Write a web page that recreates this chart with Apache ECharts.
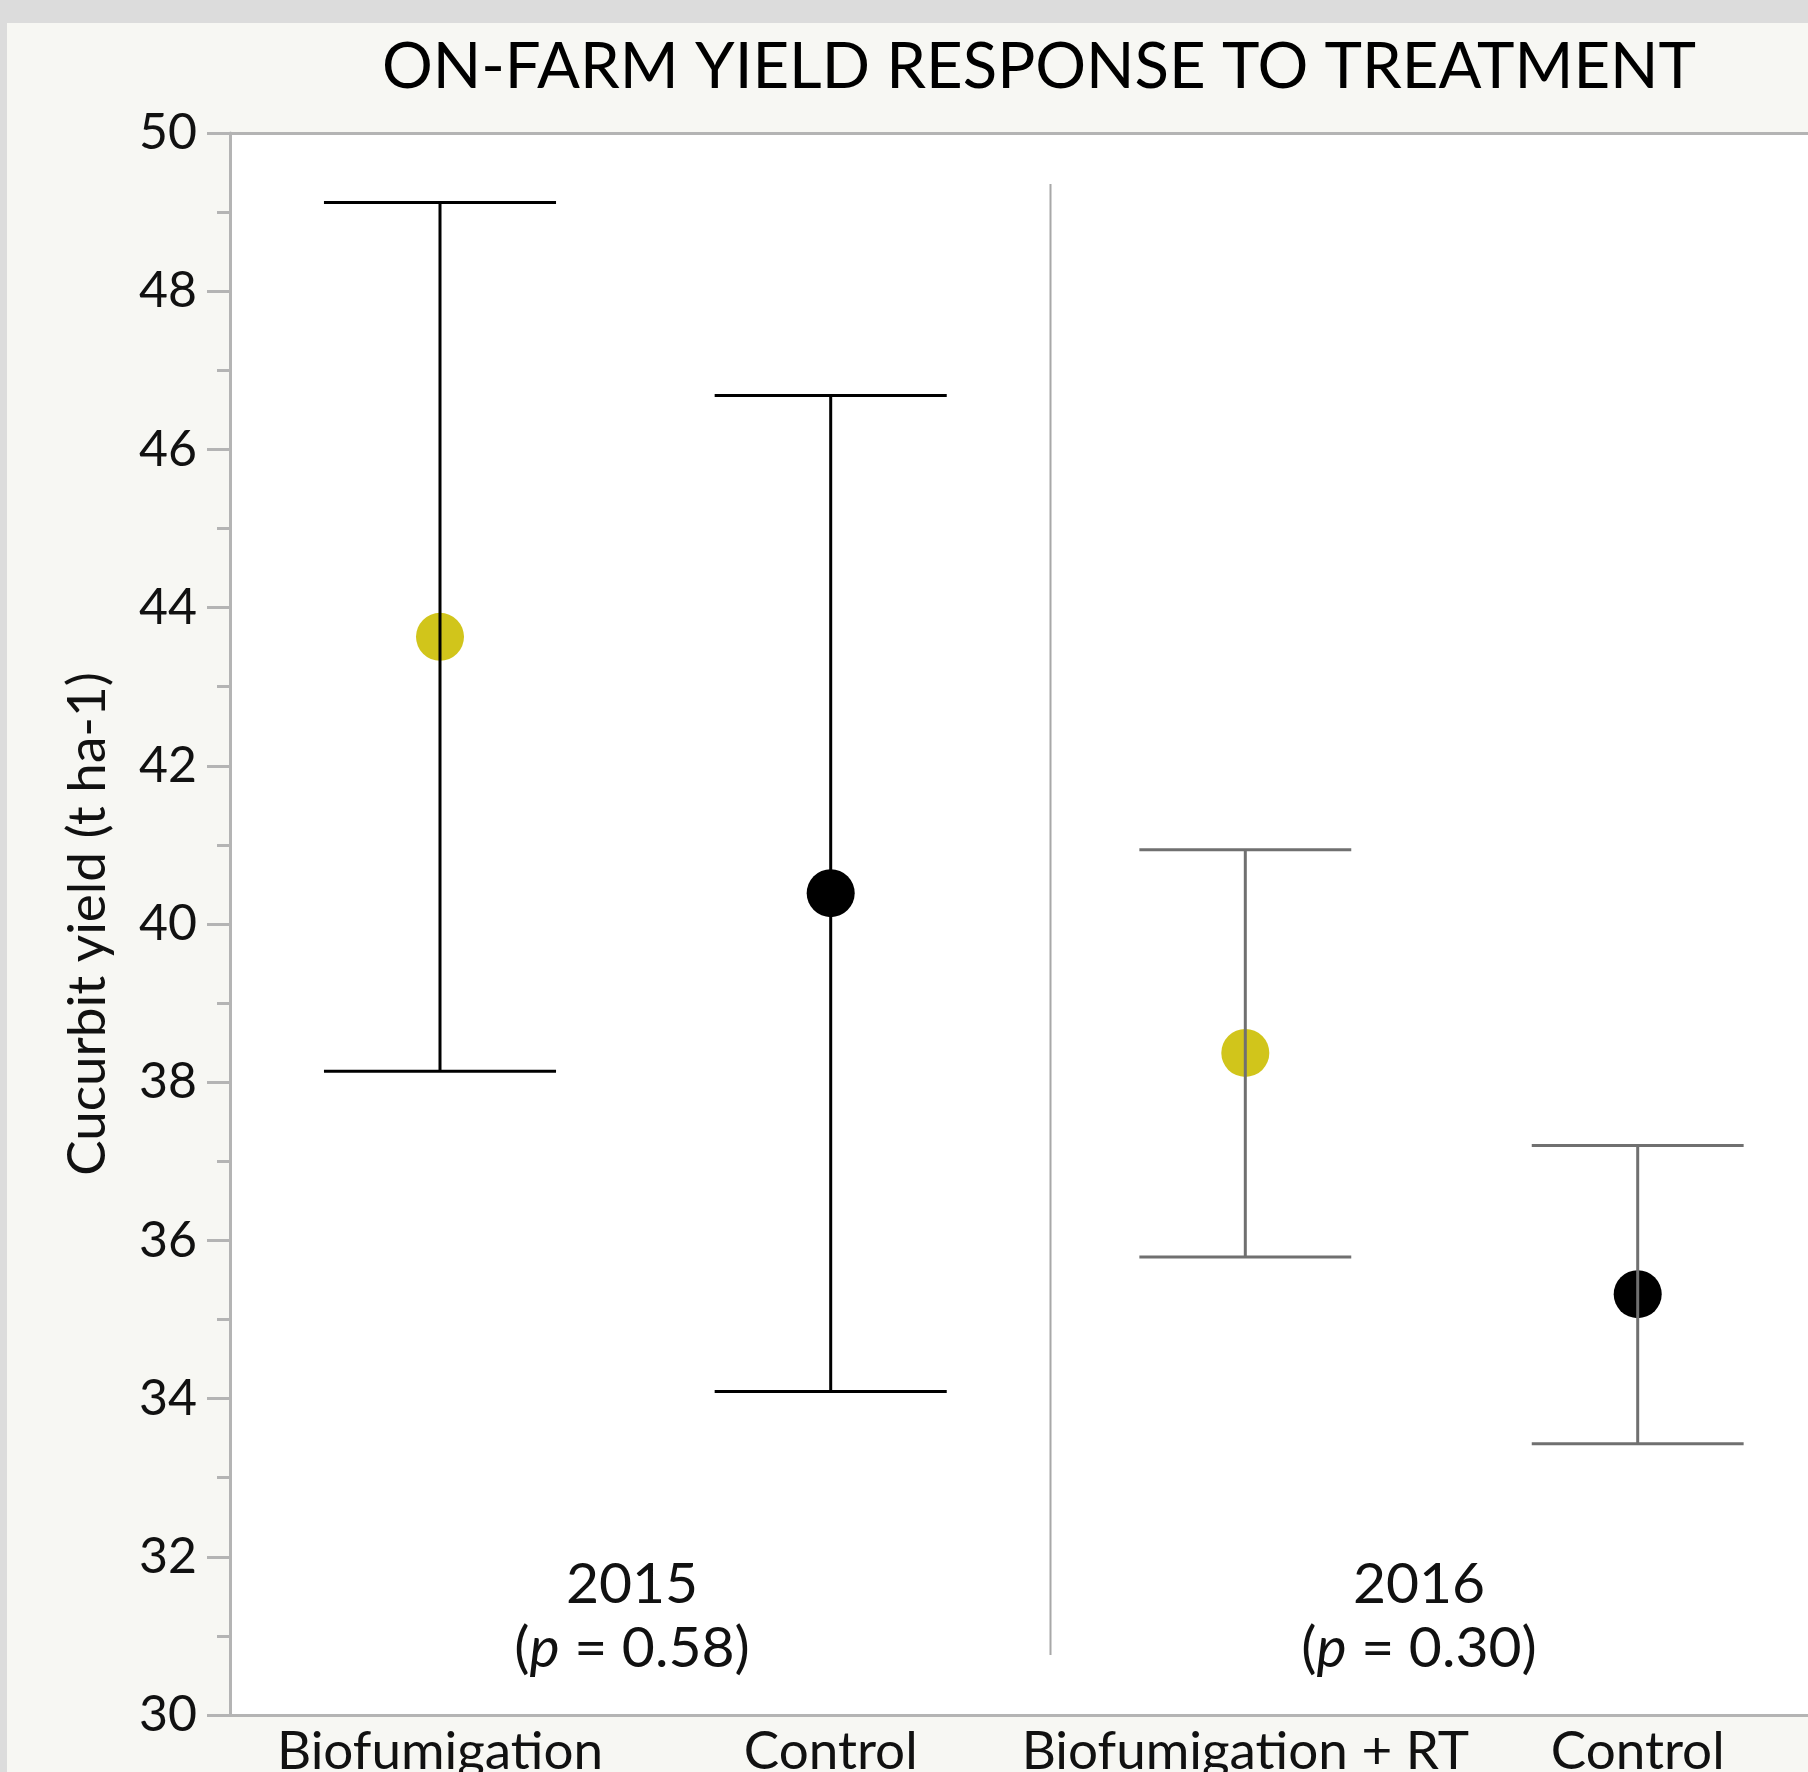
<!DOCTYPE html>
<html>
<head>
<meta charset="utf-8">
<script src="https://cdn.jsdelivr.net/npm/echarts@6/dist/echarts.min.js"></script>
<style>
  html, body { margin: 0; padding: 0; background: #dcdcdc; }
  #chart { width: 1808px; height: 1772px; }
</style>
</head>
<body>
<div id="chart"></div>
<script>
// Treatment groups per season
const treatments2015 = ['Biofumigation', 'Control'];
const treatments2016 = ['Biofumigation + RT', 'Control'];

// Mean cucurbit yield (t ha-1) with lower / upper error bar limits
const means2015 = [43.63, 40.39];
const lower2015 = [38.14, 34.09];
const upper2015 = [49.12, 46.68];

const means2016 = [38.37, 35.32];
const lower2016 = [35.79, 33.43];
const upper2016 = [40.94, 37.20];

// Season labels and p-values
const seasons = ['2015', '2016'];
const pValues = ['0.58', '0.30'];

// Y axis range
const yMin = 30;
const yMax = 50;
const yStep = 2;

const FONT = 'Lato';
const TREATED = '#d1c51b';
const CONTROL = '#000000';
const AXIS_GREY = '#b4b4b4';

function pointData(means) {
  return means.map((m, i) => [i, m]);
}
function barData(lo, hi) {
  return lo.map((l, i) => [i, l, hi[i]]);
}
function dotColor(names) {
  return p => (names[p.dataIndex] === 'Control' ? CONTROL : TREATED);
}

// Error bar: vertical stem with horizontal caps at both ends
function errorBars(capHalf, color, width) {
  return function (params, api) {
    const x = api.value(0);
    const lo = api.coord([x, api.value(1)]);
    const hi = api.coord([x, api.value(2)]);
    const half = api.size([capHalf, 0])[0];
    const style = { stroke: color, lineWidth: width, lineCap: 'butt' };
    return {
      type: 'group',
      children: [
        { type: 'line', shape: { x1: lo[0], y1: lo[1], x2: hi[0], y2: hi[1] }, style },
        { type: 'line', shape: { x1: hi[0] - half, y1: hi[1], x2: hi[0] + half, y2: hi[1] }, style },
        { type: 'line', shape: { x1: lo[0] - half, y1: lo[1], x2: lo[0] + half, y2: lo[1] }, style }
      ]
    };
  };
}

function bottomAxis(gridIndex, names, min, max) {
  return {
    type: 'value', gridIndex, position: 'bottom', min, max,
    axisLine: { show: true, onZero: false, lineStyle: { color: AXIS_GREY, width: 3 } },
    axisTick: { show: false },
    splitLine: { show: false },
    axisLabel: {
      customValues: names.map((n, i) => i),
      formatter: v => names[Math.round(v)] || '',
      fontFamily: FONT, fontSize: 53, color: '#111', margin: 10
    }
  };
}
function topAxis(gridIndex, min, max) {
  return {
    type: 'value', gridIndex, position: 'top', min, max,
    axisLine: { show: true, onZero: false, lineStyle: { color: AXIS_GREY, width: 3 } },
    axisTick: { show: false }, axisLabel: { show: false }, splitLine: { show: false }
  };
}

function seasonLabel(x, idx) {
  return {
    type: 'text', x, y: 1617, z: 10,
    style: {
      text: seasons[idx] + '\n({i|p} = ' + pValues[idx] + ')',
      rich: { i: { fontStyle: 'italic', fontFamily: FONT, fontSize: 57, fill: '#111' } },
      font: '57px ' + FONT, fill: '#111',
      align: 'center', verticalAlign: 'middle', lineHeight: 64
    }
  };
}

const chart = echarts.init(document.getElementById('chart'), null, { renderer: 'canvas' });

chart.setOption({
  backgroundColor: '#f7f7f3',
  animation: false,
  title: {
    text: 'ON-FARM YIELD RESPONSE TO TREATMENT',
    left: 1034, top: 31, textAlign: 'center',
    textStyle: { fontFamily: FONT, fontSize: 63.5, fontWeight: 'normal', color: '#000' }
  },
  graphic: [
    { type: 'rect', shape: { x: 0, y: 0, width: 1808, height: 23 }, style: { fill: '#dcdcdc' }, z: 0 },
    { type: 'rect', shape: { x: 0, y: 0, width: 7, height: 1772 }, style: { fill: '#dcdcdc' }, z: 0 },
    { type: 'line', shape: { x1: 1050.5, y1: 184, x2: 1050.5, y2: 1655 },
      style: { stroke: '#a8a8a8', lineWidth: 2 }, z: 1 },
    seasonLabel(632, 0),
    seasonLabel(1419, 1)
  ],
  grid: [
    { left: 230, top: 133, width: 788, height: 1582, outerBoundsMode: 'none', containLabel: false,
      show: true, backgroundColor: '#ffffff', borderWidth: 0 },
    { left: 1018, top: 133, width: 790, height: 1582, outerBoundsMode: 'none', containLabel: false,
      show: true, backgroundColor: '#ffffff', borderWidth: 0 }
  ],
  xAxis: [
    bottomAxis(0, treatments2015, -0.5375, 1.4794),
    topAxis(0, -0.5375, 1.4794),
    bottomAxis(1, treatments2016, -0.5793, 1.434),
    topAxis(1, -0.5793, 1.434)
  ],
  yAxis: [
    {
      type: 'value', gridIndex: 0, min: yMin, max: yMax, interval: yStep,
      name: 'Cucurbit yield (t ha-1)', nameLocation: 'middle', nameGap: 116,
      nameTextStyle: { fontFamily: FONT, fontSize: 53, color: '#111' },
      axisLine: { show: true, onZero: false, lineStyle: { color: AXIS_GREY, width: 3 } },
      axisTick: { show: true, length: 23, lineStyle: { color: AXIS_GREY, width: 3 } },
      minorTick: { show: true, splitNumber: 2, length: 13, lineStyle: { color: AXIS_GREY, width: 3 } },
      axisLabel: { fontFamily: FONT, fontSize: 50, color: '#111', margin: 33 },
      splitLine: { show: false }
    },
    {
      type: 'value', gridIndex: 1, min: yMin, max: yMax, interval: yStep, show: false,
      axisLine: { onZero: false },
      splitLine: { show: false }
    }
  ],
  series: [
    {
      type: 'scatter', xAxisIndex: 0, yAxisIndex: 0, z: 2,
      data: pointData(means2015), symbolSize: 48,
      itemStyle: { color: dotColor(treatments2015), opacity: 1 }
    },
    {
      type: 'custom', xAxisIndex: 0, yAxisIndex: 0, z: 3,
      data: barData(lower2015, upper2015),
      encode: { x: 0, y: [1, 2] },
      renderItem: errorBars(0.297, '#000000', 3)
    },
    {
      type: 'scatter', xAxisIndex: 2, yAxisIndex: 1, z: 2,
      data: pointData(means2016), symbolSize: 48,
      itemStyle: { color: dotColor(treatments2016), opacity: 1 }
    },
    {
      type: 'custom', xAxisIndex: 2, yAxisIndex: 1, z: 3,
      data: barData(lower2016, upper2016),
      encode: { x: 0, y: [1, 2] },
      renderItem: errorBars(0.27, '#707070', 3)
    }
  ]
});
</script>
</body>
</html>
